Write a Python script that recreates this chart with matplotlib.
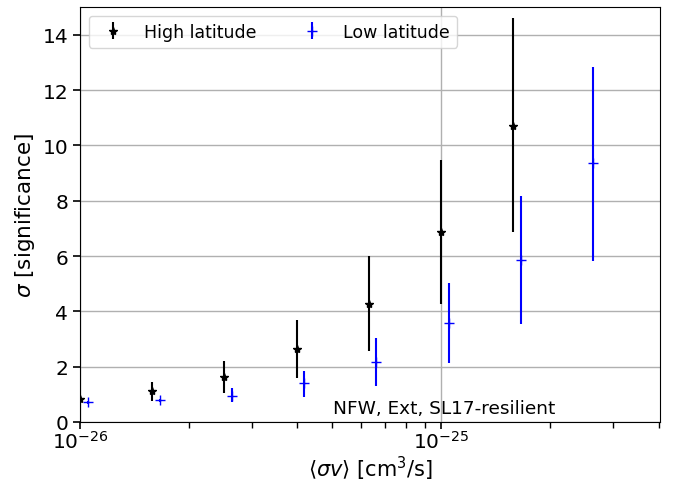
import numpy as np
import matplotlib
matplotlib.use("Agg")
import matplotlib.pyplot as plt

# data
x_high = [1.0e-26, 1.585e-26, 2.512e-26, 3.981e-26, 6.310e-26, 1.0e-25, 1.585e-25]
y_high = [0.83, 1.11, 1.61, 2.63, 4.26, 6.86, 10.72]
lo_high = [0.75, 0.77, 1.04, 1.58, 2.56, 4.26, 6.86]
hi_high = [0.92, 1.43, 2.21, 3.68, 5.99, 9.49, 14.62]

x_low = [1.05e-26, 1.664e-26, 2.638e-26, 4.180e-26, 6.625e-26, 1.05e-25, 1.664e-25, 2.638e-25]
y_low = [0.71, 0.78, 0.95, 1.40, 2.16, 3.57, 5.86, 9.37]
lo_low = [0.66, 0.72, 0.71, 0.89, 1.31, 2.12, 3.56, 5.82]
hi_low = [0.76, 0.84, 1.23, 1.85, 3.03, 5.04, 8.17, 12.85]

fig = plt.figure(figsize=(6.77, 4.85), dpi=100)
ax = fig.add_axes([0.118, 0.128, 0.857, 0.855])

yerr_h = [np.array(y_high) - np.array(lo_high), np.array(hi_high) - np.array(y_high)]
yerr_l = [np.array(y_low) - np.array(lo_low), np.array(hi_low) - np.array(y_low)]

ax.errorbar(x_high, y_high, yerr=yerr_h, fmt='*', color='black', ms=6,
            elinewidth=1.5, label='High latitude', zorder=3)
ax.errorbar(x_low, y_low, yerr=yerr_l, fmt='+', color='blue', ms=7,
            elinewidth=1.5, label='Low latitude', zorder=3)

ax.set_xscale('log')
ax.set_xlim(1e-26, 4.04e-25)
ax.set_ylim(0, 15)
ax.set_yticks([0, 2, 4, 6, 8, 10, 12, 14])
ax.grid(True, which='major', color='#b0b0b0', lw=1.0)
ax.set_axisbelow(True)

ax.tick_params(axis='both', which='major', labelsize=14.5, length=5, width=1.2)
ax.tick_params(axis='x', which='both', pad=1)
ax.tick_params(axis='x', which='minor', length=4, width=1.0)
ax.set_xlabel(r'$\langle\sigma v\rangle$ [cm$^3$/s]', fontsize=15, labelpad=1)
ax.set_ylabel(r'$\sigma$ [significance]', fontsize=15.5)

ax.text(0.819, 0.012, 'NFW, Ext, SL17-resilient', transform=ax.transAxes,
        ha='right', va='bottom', fontsize=13.3)

ax.legend(loc='upper left', ncol=2, fontsize=12.5, bbox_to_anchor=(0.0, 1.0),
          borderaxespad=0.5, columnspacing=2.2)

fig.savefig('out.png', dpi=100)
